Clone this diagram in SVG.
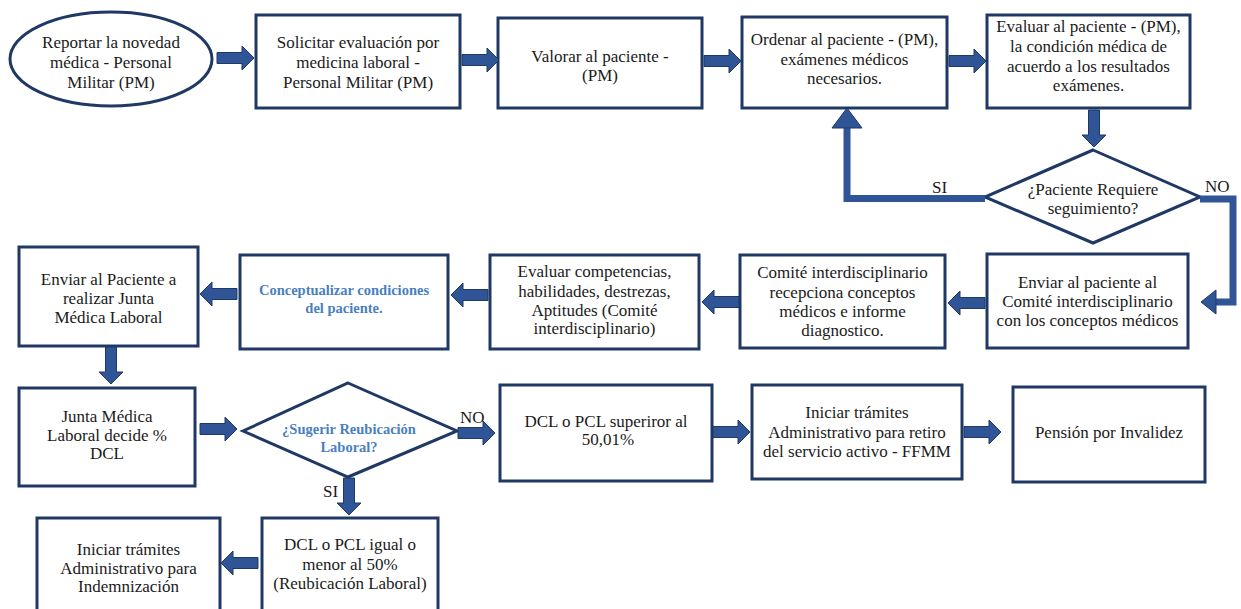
<svg xmlns="http://www.w3.org/2000/svg" xmlns:xlink="http://www.w3.org/1999/xlink" width="1241" height="609" viewBox="0 0 1241 609">
  <style>
    .box { fill: #ffffff; stroke: #1f3864; stroke-width: 3; }
    .t { font-family: "Liberation Serif", "Times New Roman", Times, "DejaVu Serif", serif; font-size: 17px; fill: #1a1a1a; text-anchor: middle; }
    .tb { font-family: "Liberation Serif", "Times New Roman", Times, "DejaVu Serif", serif; font-size: 14.5px; font-weight: bold; fill: #4a7fbf; text-anchor: middle; }
    .lbl { font-family: "Liberation Serif", "Times New Roman", Times, "DejaVu Serif", serif; font-size: 17px; fill: #1a1a1a; }
    .arrow { fill: #2f5597; stroke: #1f3864; stroke-width: 1; }
    .link { fill: none; stroke: #2f5597; stroke-width: 7; }
    .head { fill: #2f5597; stroke: #1f3864; stroke-width: 1; }
  </style>
  <defs>
    <!-- block arrow pointing right, tail at the origin, 37 px long -->
    <path id="arr" class="arrow" d="M0,-5.5 H25 V-12 L37,0 L25,12 V5.5 H0 Z"/>
  </defs>
  <rect width="1241" height="609" fill="#ffffff"/>

  <!-- Row 1 -->
  <g id="n-reportar">
    <ellipse class="box" cx="111" cy="59" rx="101" ry="47"/>
    <text class="t" x="111" y="48">Reportar la novedad</text>
    <text class="t" x="111" y="68">médica - Personal</text>
    <text class="t" x="111" y="88">Militar (PM)</text>
  </g>
  <g id="n-solicitar">
    <rect class="box" x="256" y="15" width="204" height="93"/>
    <text class="t" x="358" y="48">Solicitar evaluación por</text>
    <text class="t" x="358" y="68">medicina laboral -</text>
    <text class="t" x="358" y="88">Personal Militar (PM)</text>
  </g>
  <g id="n-valorar">
    <rect class="box" x="498" y="18" width="204" height="90"/>
    <text class="t" x="600" y="62">Valorar al paciente -</text>
    <text class="t" x="600" y="81">(PM)</text>
  </g>
  <g id="n-ordenar">
    <rect class="box" x="742" y="17" width="205" height="91"/>
    <text class="t" x="844.5" y="45">Ordenar al paciente - (PM),</text>
    <text class="t" x="844.5" y="65">exámenes médicos</text>
    <text class="t" x="844.5" y="84">necesarios.</text>
  </g>
  <g id="n-evaluar">
    <rect class="box" x="987" y="15" width="203" height="93"/>
    <text class="t" x="1088.5" y="32">Evaluar al paciente - (PM),</text>
    <text class="t" x="1088.5" y="52">la condición médica de</text>
    <text class="t" x="1088.5" y="72">acuerdo a los resultados</text>
    <text class="t" x="1088.5" y="91">exámenes.</text>
  </g>
  <g id="n-seguimiento">
    <polygon class="box" points="1093,150 1200,197 1093,243 985,197"/>
    <text class="t" x="1093" y="195">¿Paciente Requiere</text>
    <text class="t" x="1093" y="214">seguimiento?</text>
  </g>

  <!-- Row 2 -->
  <g id="n-enviar-junta">
    <rect class="box" x="19" y="247" width="179" height="99"/>
    <text class="t" x="108.5" y="285">Enviar al Paciente a</text>
    <text class="t" x="108.5" y="304">realizar Junta</text>
    <text class="t" x="108.5" y="323">Médica Laboral</text>
  </g>
  <g id="n-conceptualizar">
    <rect class="box" x="240" y="255" width="208" height="94"/>
    <text class="tb" x="344" y="295">Conceptualizar condiciones</text>
    <text class="tb" x="344" y="313">del paciente.</text>
  </g>
  <g id="n-competencias">
    <rect class="box" x="490" y="255" width="209" height="94"/>
    <text class="t" x="594.5" y="277">Evaluar competencias,</text>
    <text class="t" x="594.5" y="297">habilidades, destrezas,</text>
    <text class="t" x="594.5" y="316">Aptitudes (Comité</text>
    <text class="t" x="594.5" y="334">interdisciplinario)</text>
  </g>
  <g id="n-recepciona">
    <rect class="box" x="740" y="255" width="205" height="93"/>
    <text class="t" x="842.5" y="278">Comité interdisciplinario</text>
    <text class="t" x="842.5" y="298">recepciona conceptos</text>
    <text class="t" x="842.5" y="317">médicos e informe</text>
    <text class="t" x="842.5" y="336">diagnostico.</text>
  </g>
  <g id="n-enviar-comite">
    <rect class="box" x="987" y="254" width="201" height="94"/>
    <text class="t" x="1087.5" y="288">Enviar al paciente al</text>
    <text class="t" x="1087.5" y="307">Comité interdisciplinario</text>
    <text class="t" x="1087.5" y="326">con los conceptos médicos</text>
  </g>

  <!-- Row 3 -->
  <g id="n-junta">
    <rect class="box" x="19" y="388" width="176" height="98"/>
    <text class="t" x="107" y="422">Junta Médica</text>
    <text class="t" x="107" y="441">Laboral decide %</text>
    <text class="t" x="107" y="459">DCL</text>
  </g>
  <g id="n-reubicacion">
    <polygon class="box" points="348,383 457,431 348,477 243,431"/>
    <text class="tb" x="349" y="434">¿Sugerir Reubicación</text>
    <text class="tb" x="349" y="452">Laboral?</text>
  </g>
  <g id="n-superior">
    <rect class="box" x="500" y="385" width="212" height="96"/>
    <text class="t" x="606" y="427">DCL o PCL superiror al</text>
    <text class="t" x="608" y="445">50,01%</text>
  </g>
  <g id="n-retiro">
    <rect class="box" x="752" y="385" width="210" height="94"/>
    <text class="t" x="857" y="418">Iniciar trámites</text>
    <text class="t" x="857" y="438">Administrativo para retiro</text>
    <text class="t" x="857" y="457">del servicio activo - FFMM</text>
  </g>
  <g id="n-pension">
    <rect class="box" x="1013" y="387" width="192" height="95"/>
    <text class="t" x="1109" y="438">Pensión por Invalidez</text>
  </g>

  <!-- Row 4 -->
  <g id="n-igual">
    <rect class="box" x="262" y="518" width="176" height="100"/>
    <text class="t" x="350" y="550">DCL o PCL igual o</text>
    <text class="t" x="350" y="570">menor al 50%</text>
    <text class="t" x="350" y="589">(Reubicación Laboral)</text>
  </g>
  <g id="n-indemnizacion">
    <rect class="box" x="37" y="518" width="183" height="100"/>
    <text class="t" x="128.5" y="555">Iniciar trámites</text>
    <text class="t" x="128.5" y="574">Administrativo para</text>
    <text class="t" x="128.5" y="592">Indemnización</text>
  </g>

  <!-- Connectors -->
  <g id="connectors">
    <use xlink:href="#arr" transform="translate(217,58)"/>
    <use xlink:href="#arr" transform="translate(462,60)"/>
    <use xlink:href="#arr" transform="translate(704,61)"/>
    <use xlink:href="#arr" transform="translate(949,61)"/>
    <use xlink:href="#arr" transform="translate(1094,110) rotate(90)"/>

    <polyline class="link" points="985,198.5 847,198.5 847,126"/>
    <polygon class="head" points="847,108 832,128 862,128"/>
    <text class="lbl" x="932" y="193">SI</text>

    <polyline class="link" points="1200,199 1233,199 1233,302 1214,302"/>
    <polygon class="head" points="1201,302 1216,290 1216,314"/>
    <text class="lbl" x="1205" y="192">NO</text>

    <use xlink:href="#arr" transform="translate(985,303) rotate(180)"/>
    <use xlink:href="#arr" transform="translate(739,302) rotate(180)"/>
    <use xlink:href="#arr" transform="translate(488,295) rotate(180)"/>
    <use xlink:href="#arr" transform="translate(237,294) rotate(180)"/>
    <use xlink:href="#arr" transform="translate(111,347) rotate(90)"/>

    <use xlink:href="#arr" transform="translate(200,429)"/>
    <use xlink:href="#arr" transform="translate(458,433)"/>
    <text class="lbl" x="460" y="423">NO</text>
    <use xlink:href="#arr" transform="translate(713,432)"/>
    <use xlink:href="#arr" transform="translate(964,432)"/>

    <use xlink:href="#arr" transform="translate(349,478) rotate(90)"/>
    <text class="lbl" x="323" y="497">SI</text>
    <use xlink:href="#arr" transform="translate(258,563) rotate(180)"/>
  </g>
</svg>
